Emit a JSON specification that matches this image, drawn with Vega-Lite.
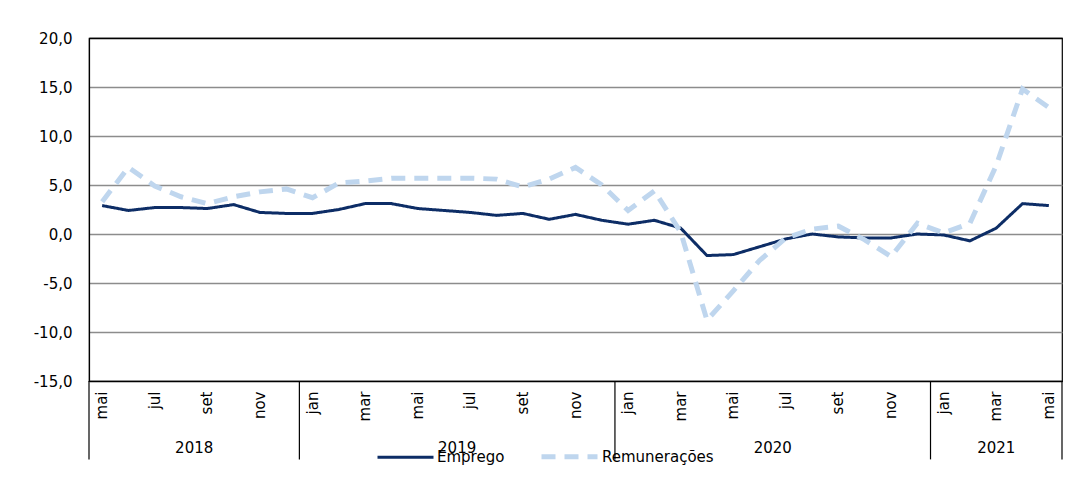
{
  "$schema": "https://vega.github.io/schema/vega-lite/v6.json",
  "width": 973,
  "height": 343,
  "autosize": {"type": "none"},
  "padding": {"left": 89, "top": 38, "right": 3, "bottom": 99},
  "background": "white",
  "config": {
    "font": "DejaVu Sans",
    "view": {"stroke": "black", "strokeWidth": 1.2}
  },
  "datasets": {
    "series": [
      {"m": "2018-05", "Emprego": 2.9, "Remunerações": 3.3},
      {"m": "2018-06", "Emprego": 2.4, "Remunerações": 6.8},
      {"m": "2018-07", "Emprego": 2.7, "Remunerações": 4.9},
      {"m": "2018-08", "Emprego": 2.7, "Remunerações": 3.8},
      {"m": "2018-09", "Emprego": 2.6, "Remunerações": 3.1},
      {"m": "2018-10", "Emprego": 3.0, "Remunerações": 3.8},
      {"m": "2018-11", "Emprego": 2.2, "Remunerações": 4.3},
      {"m": "2018-12", "Emprego": 2.1, "Remunerações": 4.6},
      {"m": "2019-01", "Emprego": 2.1, "Remunerações": 3.7},
      {"m": "2019-02", "Emprego": 2.5, "Remunerações": 5.2},
      {"m": "2019-03", "Emprego": 3.1, "Remunerações": 5.4},
      {"m": "2019-04", "Emprego": 3.1, "Remunerações": 5.7},
      {"m": "2019-05", "Emprego": 2.6, "Remunerações": 5.7},
      {"m": "2019-06", "Emprego": 2.4, "Remunerações": 5.7},
      {"m": "2019-07", "Emprego": 2.2, "Remunerações": 5.7},
      {"m": "2019-08", "Emprego": 1.9, "Remunerações": 5.6},
      {"m": "2019-09", "Emprego": 2.1, "Remunerações": 4.8},
      {"m": "2019-10", "Emprego": 1.5, "Remunerações": 5.6},
      {"m": "2019-11", "Emprego": 2.0, "Remunerações": 6.8},
      {"m": "2019-12", "Emprego": 1.4, "Remunerações": 5.0},
      {"m": "2020-01", "Emprego": 1.0, "Remunerações": 2.4},
      {"m": "2020-02", "Emprego": 1.4, "Remunerações": 4.4},
      {"m": "2020-03", "Emprego": 0.6, "Remunerações": 0.2},
      {"m": "2020-04", "Emprego": -2.2, "Remunerações": -8.8},
      {"m": "2020-05", "Emprego": -2.1, "Remunerações": -5.8},
      {"m": "2020-06", "Emprego": -1.3, "Remunerações": -2.7},
      {"m": "2020-07", "Emprego": -0.5, "Remunerações": -0.4},
      {"m": "2020-08", "Emprego": 0.0, "Remunerações": 0.5},
      {"m": "2020-09", "Emprego": -0.3, "Remunerações": 0.8},
      {"m": "2020-10", "Emprego": -0.4, "Remunerações": -0.6},
      {"m": "2020-11", "Emprego": -0.4, "Remunerações": -2.3},
      {"m": "2020-12", "Emprego": 0.0, "Remunerações": 1.1},
      {"m": "2021-01", "Emprego": -0.1, "Remunerações": 0.1},
      {"m": "2021-02", "Emprego": -0.7, "Remunerações": 1.1},
      {"m": "2021-03", "Emprego": 0.6, "Remunerações": 7.0},
      {"m": "2021-04", "Emprego": 3.1, "Remunerações": 14.8},
      {"m": "2021-05", "Emprego": 2.9, "Remunerações": 12.9}
    ],
    "sepStart": [{"m": "2018-05"}, {"m": "2019-01"}, {"m": "2020-01"}, {"m": "2021-01"}],
    "sepEnd": [{"m": "2021-05"}],
    "yearsBandEnd": [
      {"m": "2018-08", "year": "2018"},
      {"m": "2019-06", "year": "2019"},
      {"m": "2020-06", "year": "2020"}
    ],
    "yearsBandMid": [{"m": "2021-03", "year": "2021"}]
  },
  "layer": [
    {
      "data": {"name": "series"},
      "transform": [{"fold": ["Emprego", "Remunerações"], "as": ["serie", "valor"]}],
      "mark": {"type": "line", "strokeJoin": "miter", "strokeCap": "butt"},
      "encoding": {
        "x": {
          "field": "m",
          "type": "ordinal",
          "bandPosition": 0.5,
          "scale": {"type": "band", "paddingInner": 0, "paddingOuter": 0},
          "axis": {
            "title": null,
            "ticks": false,
            "domainColor": "black",
            "domainWidth": 1.2,
            "labelAngle": 270,
            "labelPadding": 10,
            "labelFontSize": 15,
            "labelColor": "black",
            "labelExpr": "toNumber(substring(datum.value,5,7)) % 2 == 1 ? split('jan,fev,mar,abr,mai,jun,jul,ago,set,out,nov,dez', ',')[toNumber(substring(datum.value,5,7))-1] : ''"
          }
        },
        "y": {
          "field": "valor",
          "type": "quantitative",
          "scale": {"domain": [-15, 20], "nice": false, "zero": false},
          "axis": {
            "title": null,
            "values": [-15, -10, -5, 0, 5, 10, 15, 20],
            "ticks": false,
            "domainColor": "black",
            "domainWidth": 1.2,
            "labelPadding": 17,
            "labelFontSize": 15,
            "labelColor": "black",
            "gridColor": {"condition": {"test": "datum.value == 20 || datum.value == -15", "value": "black"}, "value": "#8c8c8c"},
            "gridWidth": 1.6,
            "labelExpr": "replace(replace(format(datum.value, '.1f'), '.', ','), '\u2212', '-')"
          }
        },
        "color": {
          "field": "serie",
          "type": "nominal",
          "scale": {"domain": ["Emprego", "Remunerações"], "range": ["#0d2d66", "#bfd6ee"]},
          "legend": {
            "orient": "none",
            "legendX": 287,
            "legendY": 388,
            "direction": "horizontal",
            "title": null,
            "symbolType": "stroke",
            "symbolSize": 3136,
            "labelFontSize": 15,
            "labelColor": "black",
            "labelOffset": 2,
            "columnPadding": 26
          }
        },
        "strokeDash": {
          "field": "serie",
          "type": "nominal",
          "scale": {"domain": ["Emprego", "Remunerações"], "range": [[1, 0], [14, 9]]}
        },
        "strokeWidth": {
          "field": "serie",
          "type": "nominal",
          "scale": {"domain": ["Emprego", "Remunerações"], "range": [3, 5]}
        }
      }
    },
    {
      "data": {"name": "sepStart"},
      "mark": {"type": "rule", "color": "black", "strokeWidth": 1.2},
      "encoding": {
        "x": {"field": "m", "type": "ordinal", "bandPosition": 0},
        "y": {"datum": -15},
        "y2": {"datum": -23}
      }
    },
    {
      "data": {"name": "sepEnd"},
      "mark": {"type": "rule", "color": "black", "strokeWidth": 1.2},
      "encoding": {
        "x": {"field": "m", "type": "ordinal", "bandPosition": 1},
        "y": {"datum": -15},
        "y2": {"datum": -23}
      }
    },
    {
      "data": {"name": "yearsBandEnd"},
      "mark": {"type": "text", "fontSize": 15, "color": "black", "baseline": "middle", "align": "center"},
      "encoding": {
        "x": {"field": "m", "type": "ordinal", "bandPosition": 1},
        "y": {"datum": -21.8},
        "text": {"field": "year"}
      }
    },
    {
      "data": {"name": "yearsBandMid"},
      "mark": {"type": "text", "fontSize": 15, "color": "black", "baseline": "middle", "align": "center"},
      "encoding": {
        "x": {"field": "m", "type": "ordinal", "bandPosition": 0.5},
        "y": {"datum": -21.8},
        "text": {"field": "year"}
      }
    }
  ]
}
